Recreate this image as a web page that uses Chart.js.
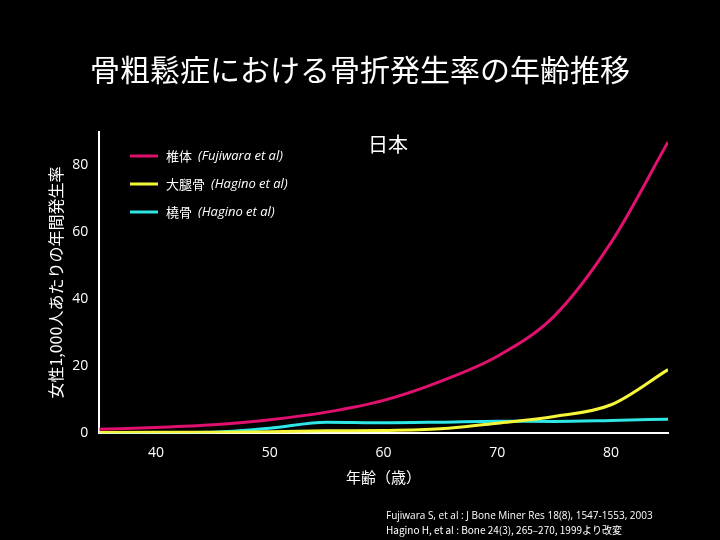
<!DOCTYPE html><html><head><meta charset="utf-8">
<script src="https://cdn.jsdelivr.net/npm/chart.js@4"></script>
<style>html,body{margin:0;background:#000;}#w{width:720px;height:540px;position:relative}</style></head><body><div id="w"><canvas id="c" width="720" height="540"></canvas></div>
<script>
const ages=[35,40,45,50,55,60,65,70,75,80,85];
const vertebra=[1.2,1.7,2.5,4,6.3,9.8,15.5,23,35,57,87];
const femur=[0.2,0.25,0.3,0.4,0.7,0.8,1.3,3,5,8.5,19];
const radius=[0.1,0.2,0.3,1.5,3.3,3.1,3.3,3.6,3.5,3.8,4.2];
const xTicks=[40,50,60,70,80];
const yTicks=[0,20,40,60,80];
const names=['椎体','大腿骨','橈骨'];
const refs=['(Fujiwara et al)','(Hagino et al)','(Hagino et al)'];
const colors=['#e0106e','#f5f53a','#2ee6e6'];
const F='"Noto Sans CJK JP","Noto Sans",sans-serif';
const mk=(d,i)=>({label:names[i],data:ages.map((a,k)=>({x:a,y:d[k]})),borderColor:colors[i],borderWidth:3,pointRadius:0,cubicInterpolationMode:'monotone',fill:false});
const deco={id:'deco',afterDraw(ch){const c=ch.ctx;c.save();c.fillStyle='#fff';
c.font='30px '+F;c.textAlign='center';c.textBaseline='middle';c.fillText('骨粗鬆症における骨折発生率の年齢推移',360,70);
c.font='20px '+F;c.fillText('日本',388,144);
c.textAlign='left';
for(let i=0;i<3;i++){const y=156+i*28;c.strokeStyle=colors[i];c.lineWidth=3;c.beginPath();c.moveTo(130,y);c.lineTo(158,y);c.stroke();
c.fillStyle='#fff';c.font='13px '+F;c.fillText(names[i],166,y);const w=c.measureText(names[i]).width;c.font='italic 13px "Open Sans",sans-serif';c.fillText(refs[i],166+w+6,y);}
c.font='10px "Open Sans",sans-serif';c.fillText('Fujiwara S, et al : J Bone Miner Res 18(8), 1547-1553, 2003',386,516);
c.font='10px '+F;c.fillText('Hagino H, et al : Bone 24(3), 265–270, 1999より改変',386,530);
c.restore();}};
new Chart(document.getElementById('c'),{type:'line',data:{datasets:[mk(vertebra,0),mk(femur,1),mk(radius,2)]},
options:{responsive:false,animation:false,layout:{padding:{top:132,right:52,bottom:50,left:42}},
plugins:{legend:{display:false},tooltip:{enabled:false}},
scales:{x:{type:'linear',min:35,max:85,grid:{display:false},border:{color:'#fff',width:2},
afterBuildTicks:s=>{s.ticks=xTicks.map(v=>({value:v}));},
ticks:{color:'#fff',font:{size:14,family:'"Open Sans"'}},
title:{display:true,text:'年齢（歳）',color:'#fff',font:{size:15,family:F}}},
y:{min:0,max:90,grid:{display:false},border:{color:'#fff',width:2},
afterBuildTicks:s=>{s.ticks=yTicks.map(v=>({value:v}));},
ticks:{color:'#fff',font:{size:14,family:'"Open Sans"'}},
title:{display:true,text:'女性1,000人あたりの年間発生率',color:'#fff',font:{size:16,family:F}}}}},plugins:[deco]});
</script></body></html>
